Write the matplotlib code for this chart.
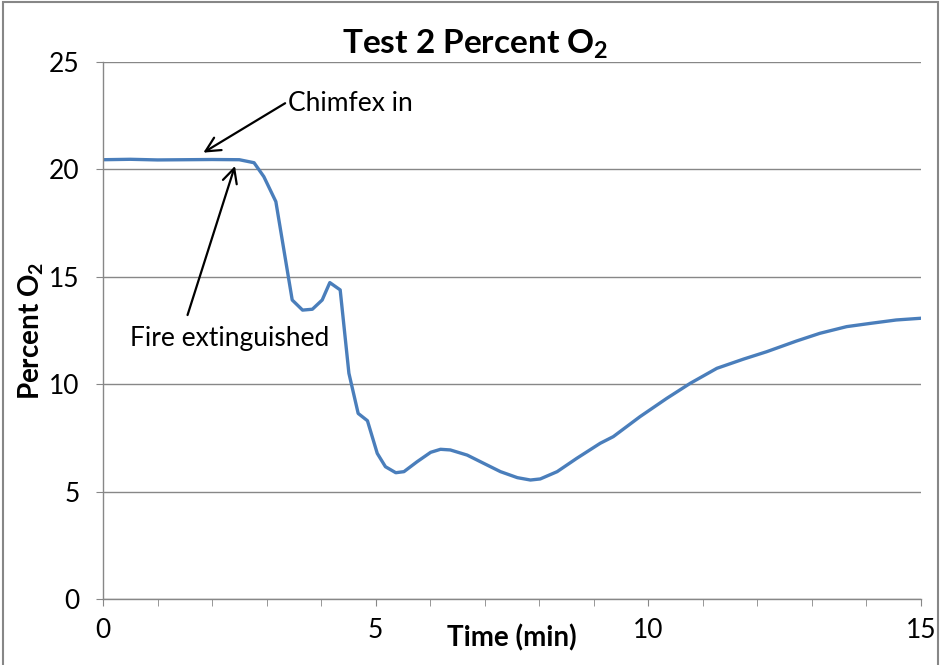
import matplotlib
matplotlib.use("Agg")
import matplotlib.pyplot as plt
from matplotlib.patches import Rectangle
from matplotlib.ticker import MultipleLocator

plt.rcParams["font.family"] = ["Lato", "DejaVu Sans"]
plt.rcParams["mathtext.fontset"] = "custom"
plt.rcParams["mathtext.rm"] = "Lato"
plt.rcParams["mathtext.bf"] = "Lato:bold"

# Test 2 O2 readings
time_min = [0.0, 0.5, 1.0, 1.5, 2.0, 2.5, 2.77, 2.95, 3.17, 3.47, 3.66, 3.84,
            4.02, 4.16, 4.35, 4.51, 4.68, 4.85, 5.03, 5.18, 5.37, 5.52, 5.76,
            6.01, 6.19, 6.37, 6.68, 6.98, 7.29, 7.60, 7.84, 8.02, 8.33, 8.69,
            9.12, 9.36, 9.85, 10.34, 10.77, 11.26, 11.75, 12.17, 12.72, 13.15,
            13.64, 14.07, 14.55, 15.0]
pct_o2 = [20.45, 20.47, 20.44, 20.45, 20.46, 20.45, 20.31, 19.66, 18.5, 13.92,
          13.45, 13.49, 13.92, 14.73, 14.39, 10.51, 8.64, 8.30, 6.78, 6.16,
          5.88, 5.93, 6.39, 6.83, 6.97, 6.94, 6.70, 6.32, 5.93, 5.65, 5.54,
          5.59, 5.93, 6.55, 7.25, 7.56, 8.49, 9.34, 10.04, 10.74, 11.17, 11.51,
          12.01, 12.37, 12.68, 12.83, 12.99, 13.07]

GRID = "#878787"
ARROW = dict(arrowstyle="->", color="black", lw=1.6, mutation_scale=26,
             shrinkA=0, shrinkB=0)

fig = plt.figure(figsize=(9.41, 6.65), dpi=100)
fig.patches.append(Rectangle((0.003, -0.01), 0.994, 1.007, transform=fig.transFigure,
                             fill=False, edgecolor=GRID, lw=1.5))
ax = fig.add_axes([0.1095, 0.0992, 0.869, 0.8076])

ax.plot(time_min, pct_o2, color="#4A7EBB", lw=2.4)

ax.set_xlim(0, 15)
ax.set_ylim(0, 25)
ax.xaxis.set_major_locator(MultipleLocator(5))
ax.xaxis.set_minor_locator(MultipleLocator(1))
ax.yaxis.set_major_locator(MultipleLocator(5))
ax.grid(axis="y", color=GRID, lw=1.0)
ax.set_axisbelow(True)
for s in ("top", "right"):
    ax.spines[s].set_visible(False)
for s in ("left", "bottom"):
    ax.spines[s].set_color(GRID)
    ax.spines[s].set_linewidth(1.0)
ax.tick_params(which="both", color=GRID, direction="out", labelsize=19)
ax.tick_params(which="major", length=5)
ax.tick_params(which="minor", length=5)
ax.tick_params(axis="x", pad=9)
ax.tick_params(axis="y", pad=12)

# Excel centres the title on the whole chart area, a bit left of the plot centre
ax.set_title(r"Test 2 Percent O$_\mathbf{2}$", fontsize=24, fontweight="bold",
             pad=6, x=0.455)
ax.set_xlabel("Time (min)", fontsize=20, fontweight="bold", labelpad=-14)
ax.set_ylabel(r"Percent O$_\mathbf{2}$", fontsize=20, fontweight="bold", labelpad=2)

ax.text(3.39, 23.08, "Chimfex in", fontsize=19, va="center", ha="left")
ax.annotate("", xy=(1.84, 20.78), xytext=(3.34, 23.08), arrowprops=ARROW)
ax.text(2.33, 12.15, "Fire extinguished", fontsize=19, va="center", ha="center")
ax.annotate("", xy=(2.42, 20.16), xytext=(1.55, 13.22), arrowprops=ARROW)

fig.savefig("out.png", dpi=100)
